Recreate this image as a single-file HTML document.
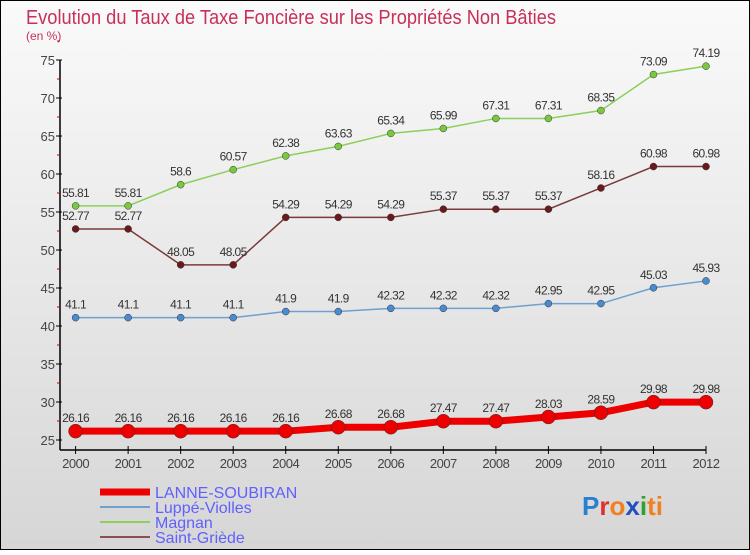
<!DOCTYPE html>
<html><head><meta charset="utf-8"><style>
body{margin:0;width:750px;height:550px;overflow:hidden;font-family:"Liberation Sans",sans-serif}
</style></head><body>
<svg width="750" height="550" xmlns="http://www.w3.org/2000/svg">
<defs><linearGradient id="bg" x1="0" y1="0" x2="0" y2="1"><stop offset="0" stop-color="#fafafa"/><stop offset="1" stop-color="#d6d6d6"/></linearGradient></defs>
<rect x="0.5" y="0.5" width="749" height="549" fill="url(#bg)" stroke="#000"/>
<text x="26" y="24" font-size="20" fill="#c8305a" textLength="530" lengthAdjust="spacingAndGlyphs">Evolution du Taux de Taxe Foncière sur les Propriétés Non Bâties</text>
<text x="26" y="40" font-size="12" fill="#c8305a">(en %)</text>
<g id="axes"></g><g id="series"></g>
<g>
<line x1="100" y1="492" x2="150" y2="492" stroke="#e00" stroke-width="7"/>
<text x="155" y="498" font-size="16" fill="#6060ff">LANNE-SOUBIRAN</text>
<line x1="100" y1="507" x2="150" y2="507" stroke="#6fa0d0" stroke-width="2"/>
<text x="155" y="513" font-size="16" fill="#6060ff">Luppé-Violles</text>
<line x1="100" y1="522" x2="150" y2="522" stroke="#8ad05a" stroke-width="2"/>
<text x="155" y="528" font-size="16" fill="#6060ff">Magnan</text>
<line x1="100" y1="537" x2="150" y2="537" stroke="#8b5050" stroke-width="2"/>
<text x="155" y="543" font-size="16" fill="#6060ff">Saint-Griède</text>
</g>
<text x="582" y="515" font-size="26" font-weight="bold"><tspan fill="#2a7fd0">P</tspan><tspan fill="#e03030">r</tspan><tspan fill="#f08020">o</tspan><tspan fill="#2050c0">x</tspan><tspan fill="#30a030">i</tspan><tspan fill="#f08020">ti</tspan></text>
</svg>
<script>
const years=[2000,2001,2002,2003,2004,2005,2006,2007,2008,2009,2010,2011,2012];
const lanne=[26.16,26.16,26.16,26.16,26.16,26.68,26.68,27.47,27.47,28.03,28.59,29.98,29.98];
const luppe=[41.1,41.1,41.1,41.1,41.9,41.9,42.32,42.32,42.32,42.95,42.95,45.03,45.93];
const magnan=[55.81,55.81,58.6,60.57,62.38,63.63,65.34,65.99,67.31,67.31,68.35,73.09,74.19];
const saint=[52.77,52.77,48.05,48.05,54.29,54.29,54.29,55.37,55.37,55.37,58.16,60.98,60.98];
const yTicks=[25,30,35,40,45,50,55,60,65,70,75];
const NS="http://www.w3.org/2000/svg";
const X=i=>75.6+i*(706-75.6)/12;
const Y=v=>440-(v-25)*7.6;
function mk(t,a,p){const e=document.createElementNS(NS,t);for(const k in a)e.setAttribute(k,a[k]);p.appendChild(e);return e;}
const ax=document.getElementById('axes');
let l=mk('line',{x1:60,y1:Y(75),x2:60,y2:450,stroke:'#000','stroke-width':1.5},ax);

l=mk('line',{x1:60,y1:450,x2:X(12),y2:450,stroke:'#000','stroke-width':1.5},ax);

yTicks.forEach(v=>{mk('line',{x1:56,y1:Y(v),x2:62,y2:Y(v),stroke:'#000'},ax);
mk('line',{x1:57,y1:Y(v+2.5),x2:60,y2:Y(v+2.5),stroke:'#c00'},ax);
const t=mk('text',{x:55,y:Y(v)+5,'font-size':13,fill:'#444','text-anchor':'end'},ax);t.textContent=v;
});
years.forEach((yr,i)=>{mk('line',{x1:X(i),y1:446,x2:X(i),y2:454,stroke:'#000'},ax);
const t=mk('text',{x:X(i),y:468,'font-size':13,fill:'#444','text-anchor':'middle','letter-spacing':'-0.5'},ax);t.textContent=yr;
});
const sg=document.getElementById('series');
function series(vals,col,dot,w,r,name){
const g=mk('g',{},sg);
mk('polyline',{points:vals.map((v,i)=>X(i)+','+Y(v)).join(' '),fill:'none',stroke:col,'stroke-width':w},g);
vals.forEach((v,i)=>{const c=mk('circle',{cx:X(i),cy:Y(v),r:r,fill:dot,stroke:'#333','stroke-width':0.5},g);

const t=mk('text',{x:X(i),y:Y(v)-9,'font-size':12,fill:'#333','text-anchor':'middle','letter-spacing':'-0.6'},g);t.textContent=v;
});}
series(saint,'#7a3a3a','#6a1a1a',1.5,3.5,'saint-griede-series');
series(magnan,'#8ad05a','#7ac840',1.5,3.5,'magnan-series');
series(luppe,'#6fa0d0','#4a8ad0',1.5,3.5,'luppe-violles-series');
series(lanne,'#e00','#e00',7,7,'lanne-soubiran-series');
</script>
</body></html>
